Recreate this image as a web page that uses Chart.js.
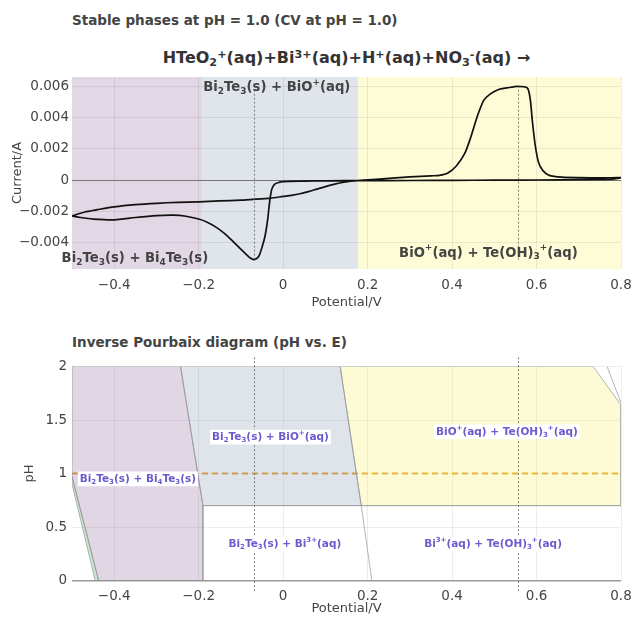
<!DOCTYPE html>
<html lang="en">
<head>
<meta charset="UTF-8">
<title>Stable phases at pH = 1.0 / Inverse Pourbaix diagram</title>
<script src="https://cdn.jsdelivr.net/npm/chart.js"></script>
<style>
  body { margin: 0; background: #fff; font-family: 'DejaVu Sans', sans-serif; color: #444; }
  .wrap { position: relative; width: 634px; height: 620px; overflow: hidden; }
  .ttl { position: absolute; left: 72px; font-weight: bold; font-size: 13.5px; line-height: 16px; white-space: nowrap; }
  #reac { left: 72px; width: 549px; text-align: center; top: 48px; font-size: 16px; line-height: 20px; color: #333; }
  #reac sub, #reac sup { font-size: 0.7em; line-height: 0; position: relative; vertical-align: baseline; }
  #reac sub { top: 0.3em; }
  #reac sup { top: -0.45em; }
  canvas { position: absolute; left: 0; }
</style>
</head>
<body>
<div class="wrap">
  <div class="ttl" style="top:12px">Stable phases at pH = 1.0 (CV at pH = 1.0)</div>
  <div class="ttl" id="reac">HTeO<sub>2</sub><sup>+</sup>(aq)+Bi<sup>3+</sup>(aq)+H<sup>+</sup>(aq)+NO<sub>3</sub><sup>-</sup>(aq) →</div>
  <canvas id="cv" width="634" height="255" style="top:65px"></canvas>
  <div class="ttl" style="top:334px">Inverse Pourbaix diagram (pH vs. E)</div>
  <canvas id="pourbaix" width="634" height="270" style="top:350px"></canvas>
</div>
<script>
// ---- CV at pH 1.0 (forward scan to 0.8 V, then back to -0.5 V)
const cvPotential = [
  -0.5, -0.47, -0.44, -0.4, -0.35, -0.3, -0.25, -0.2, -0.15, -0.1, -0.07, -0.03, 0.0, 0.02, 0.04,
  0.06, 0.08, 0.1, 0.12, 0.14, 0.16, 0.19, 0.25, 0.3, 0.35, 0.37, 0.39, 0.41, 0.43, 0.445, 0.46,
  0.475, 0.49, 0.51, 0.53, 0.555, 0.578, 0.585, 0.59, 0.597, 0.605, 0.615, 0.63, 0.66, 0.7, 0.76, 0.8,
  0.78, 0.7, 0.6, 0.5, 0.4, 0.3, 0.2, 0.1, 0.05, 0.0, -0.01, -0.02, -0.027, -0.032, -0.037,
  -0.043, -0.05, -0.058, -0.068, -0.078, -0.09, -0.105, -0.12, -0.14, -0.16, -0.18, -0.2, -0.23,
  -0.26, -0.3, -0.35, -0.4, -0.45, -0.48, -0.5
];
const cvCurrent = [
  -0.0023, -0.00205, -0.0019, -0.00172, -0.00158, -0.00149, -0.00143, -0.0014, -0.00134, -0.00129, -0.00124, -0.00116, -0.00105, -0.00098, -0.00088,
  -0.00074, -0.00058, -0.00042, -0.00028, -0.00016, -0.00007, -0.00001, 0.0001, 0.0002, 0.00027, 0.0003, 0.00045, 0.0009, 0.0017, 0.0028, 0.0041,
  0.0051, 0.0055, 0.0058, 0.0059, 0.006, 0.0059, 0.0052, 0.0038, 0.0022, 0.0011, 0.0006, 0.0003, 0.00018, 0.00015, 0.00014, 0.00015,
  0.00005, 0.00002, 0.0, -0.00001, -0.00002, -0.00003, -0.00004, -0.00005, -0.00007, -0.0001, -0.00015, -0.00026, -0.0006, -0.0014, -0.0026,
  -0.0036, -0.0043, -0.0049, -0.0051, -0.005, -0.0047, -0.0043, -0.0039, -0.0034, -0.003, -0.0027, -0.0025, -0.00232,
  -0.00225, -0.00228, -0.0024, -0.00255, -0.0025, -0.0024, -0.0023
];
const phaseEdges = [-0.5, -0.192, 0.177, 0.8];
const peakPotentials = [-0.07, 0.555];
const cvTicksX = [-0.4, -0.2, 0, 0.2, 0.4, 0.6, 0.8];
const cvTicksY = [-0.004, -0.002, 0, 0.002, 0.004, 0.006];

// ---- inverse Pourbaix regions (E, pH)
const regBi4Te3 = [[-0.5, 2], [-0.243, 2], [-0.19, 0.7], [-0.19, 0], [-0.437, 0], [-0.5, 0.97], [-0.5, 2]];
const regStrip = [[-0.5, 0.97], [-0.437, 0], [-0.445, 0], [-0.5, 0.9], [-0.5, 0.97]];
const regBiO = [[-0.243, 2], [0.135, 2], [0.185, 0.7], [-0.19, 0.7], [-0.243, 2]];
const regTeOH = [[0.135, 2], [0.734, 2], [0.8, 1.64], [0.8, 0.7], [0.185, 0.7], [0.135, 2]];
const lineBi3 = [[0.185, 0.7], [0.21, 0]];
const lineCorner = [[0.767, 2], [0.8, 1.66]];
const lineBottom = [[-0.19, 0.7], [0.8, 0.7]];
const phCV = 1.0;
const pbTicksX = [-0.4, -0.2, 0, 0.2, 0.4, 0.6, 0.8];
const pbTicksY = [0, 0.5, 1, 1.5, 2];

const purple = 'rgba(131,91,147,0.25)', slate = 'rgba(123,147,171,0.25)',
      yellow = 'rgba(247,239,91,0.25)', green = 'rgba(75,175,95,0.3)';
const FONT = "'DejaVu Sans', sans-serif";
const minus = s => s.replace('-', '\u2212');

function parseRich(s) {
  const out = []; let i = 0, buf = '';
  while (i < s.length) {
    const c = s[i];
    if ((c === '_' || c === '^') && s[i + 1] === '{') {
      if (buf) { out.push({ t: buf, k: 0 }); buf = ''; }
      const j = s.indexOf('}', i);
      out.push({ t: s.slice(i + 2, j), k: c === '_' ? 1 : -1 });
      i = j + 1;
    } else { buf += c; i++; }
  }
  if (buf) out.push({ t: buf, k: 0 });
  return out;
}

function drawRich(ctx, s, cx, cy, size, color, bg) {
  const parts = parseRich(s);
  const big = `bold ${size}px ${FONT}`, small = `bold ${Math.round(size * 0.7)}px ${FONT}`;
  let w = 0;
  parts.forEach(p => { ctx.font = p.k ? small : big; p.w = ctx.measureText(p.t).width; w += p.w; });
  let x = cx - w / 2;
  if (bg) { ctx.fillStyle = bg; ctx.fillRect(x - 2, cy - size * 0.7, w + 4, size * 1.4); }
  ctx.fillStyle = color; ctx.textBaseline = 'middle'; ctx.textAlign = 'left';
  parts.forEach(p => {
    ctx.font = p.k ? small : big;
    ctx.fillText(p.t, x, cy + (p.k > 0 ? size * 0.3 : p.k < 0 ? -size * 0.38 : 0));
    x += p.w;
  });
}

const bandPlugin = {
  id: 'bands',
  beforeDraw(chart, args, opts) {
    const { ctx, chartArea: a, scales: { x } } = chart;
    ctx.save();
    for (let i = 0; i < opts.edges.length - 1; i++) {
      const x0 = x.getPixelForValue(opts.edges[i]), x1 = x.getPixelForValue(opts.edges[i + 1]);
      ctx.fillStyle = opts.colors[i];
      ctx.fillRect(x0, a.top, x1 - x0, a.bottom - a.top);
    }
    ctx.restore();
  }
};

const markPlugin = {
  id: 'marks',
  afterDatasetsDraw(chart, args, opts) {
    const { ctx, scales: { x, y } } = chart;
    ctx.save();
    ctx.strokeStyle = 'rgba(90,90,90,0.75)'; ctx.lineWidth = 1; ctx.setLineDash([2, 2]);
    opts.vlines.forEach(v => {
      const px = Math.round(x.getPixelForValue(v)) + 0.5;
      ctx.beginPath();
      ctx.moveTo(px, y.getPixelForValue(opts.vFrom));
      ctx.lineTo(px, y.getPixelForValue(opts.vTo));
      ctx.stroke();
    });
    ctx.setLineDash([]);
    opts.labels.forEach(l => drawRich(ctx, l.text, x.getPixelForValue(l.x), y.getPixelForValue(l.y), opts.size, opts.color, opts.bg));
    ctx.restore();
  }
};

const tickFont = { family: FONT, size: 13.5 };
const axisTitle = (text, pad) => ({ display: true, text, color: '#444', font: { family: FONT, size: 13 }, padding: pad });
const fixTicks = arr => s => { s.ticks = arr.map(v => ({ value: v })); };
const fitX = h => s => { s.height = h; s.paddingLeft = 0; s.paddingRight = 0; };
const fitY = s => { s.width = 72; s.paddingTop = 0; s.paddingBottom = 0; };

new Chart(document.getElementById('cv'), {
  type: 'scatter',
  data: {
    datasets: [{
      data: cvPotential.map((v, i) => ({ x: v, y: cvCurrent[i] })),
      showLine: true, borderColor: '#111', borderWidth: 1.7, pointRadius: 0, tension: 0.25, fill: false
    }]
  },
  options: {
    responsive: false, animation: false,
    layout: { padding: { top: 12, right: 13, left: 0, bottom: 0 } },
    plugins: {
      legend: { display: false }, tooltip: { enabled: false },
      bands: { edges: phaseEdges, colors: ['rgb(226,215,228)', 'rgb(223,229,235)', 'rgb(253,252,215)'] },
      marks: {
        vlines: peakPotentials, vFrom: Math.min(...cvCurrent), vTo: Math.max(...cvCurrent),
        size: 13.2, color: '#444', bg: null,
        labels: [
          { text: 'Bi_{2}Te_{3}(s) + BiO^{+}(aq)', x: -0.015, y: 0.0059 },
          { text: 'Bi_{2}Te_{3}(s) + Bi_{4}Te_{3}(s)', x: -0.351, y: -0.00502 },
          { text: 'BiO^{+}(aq) + Te(OH)_{3}^{+}(aq)', x: 0.486, y: -0.00468 }
        ]
      }
    },
    scales: {
      x: {
        type: 'linear', min: -0.5, max: 0.8,
        afterBuildTicks: fixTicks(cvTicksX), afterFit: fitX(51),
        grid: { color: 'rgba(0,0,0,0.07)', drawTicks: false }, border: { display: false },
        ticks: { font: tickFont, color: '#444', padding: 8, callback: v => v === 0 ? '0' : minus(v.toFixed(1)) },
        title: axisTitle('Potential/V', { bottom: 10, top: 0 })
      },
      y: {
        min: -0.0057, max: 0.0066,
        afterBuildTicks: fixTicks(cvTicksY), afterFit: fitY,
        grid: { color: c => c.tick && c.tick.value === 0 ? '#777' : 'rgba(0,0,0,0.07)', drawTicks: false }, border: { display: false },
        ticks: { font: tickFont, color: '#444', padding: 3, callback: v => v === 0 ? '0' : minus(v.toFixed(3)) },
        title: axisTitle('Current/A', { top: 10, bottom: 0 })
      }
    }
  },
  plugins: [bandPlugin, markPlugin]
});

const pts = a => a.map(p => ({ x: p[0], y: p[1] }));
const edge = 'rgba(150,150,150,0.7)';
const poly = (a, c) => ({ data: pts(a), showLine: true, fill: 'shape', backgroundColor: c, borderColor: edge, borderWidth: 1, pointRadius: 0 });
const seg = (a, c, w, dash) => ({ data: pts(a), showLine: true, fill: false, borderColor: c, borderWidth: w, borderDash: dash || [], pointRadius: 0 });

new Chart(document.getElementById('pourbaix'), {
  type: 'scatter',
  data: {
    datasets: [
      poly(regBi4Te3, purple), poly(regStrip, green), poly(regBiO, slate), poly(regTeOH, yellow),
      seg(lineBi3, edge, 1), seg(lineCorner, edge, 1), seg(lineBottom, edge, 1),
      seg([[-0.5, phCV], [0.8, phCV]], '#e6a230', 2, [6, 4])
    ]
  },
  options: {
    responsive: false, animation: false,
    layout: { padding: { top: 16.5, right: 13, left: 0, bottom: 0 } },
    plugins: {
      legend: { display: false }, tooltip: { enabled: false },
      marks: {
        vlines: peakPotentials, vFrom: -0.1, vTo: 2.1,
        size: 10.5, color: '#6a5acd', bg: '#fff',
        labels: [
          { text: 'Bi_{2}Te_{3}(s) + BiO^{+}(aq)', x: -0.03, y: 1.34 },
          { text: 'BiO^{+}(aq) + Te(OH)_{3}^{+}(aq)', x: 0.53, y: 1.39 },
          { text: 'Bi_{2}Te_{3}(s) + Bi_{4}Te_{3}(s)', x: -0.344, y: 0.95 },
          { text: 'Bi_{2}Te_{3}(s) + Bi^{3+}(aq)', x: 0.004, y: 0.34 },
          { text: 'Bi^{3+}(aq) + Te(OH)_{3}^{+}(aq)', x: 0.497, y: 0.34 }
        ]
      }
    },
    scales: {
      x: {
        type: 'linear', min: -0.5, max: 0.8,
        afterBuildTicks: fixTicks(pbTicksX), afterFit: fitX(39.5),
        grid: { color: 'rgba(0,0,0,0.07)', drawTicks: false }, border: { display: false },
        ticks: { font: tickFont, color: '#444', padding: 8, callback: v => v === 0 ? '0' : minus(v.toFixed(1)) },
        title: axisTitle('Potential/V', { bottom: 4, top: 0 })
      },
      y: {
        min: 0, max: 2,
        afterBuildTicks: fixTicks(pbTicksY), afterFit: fitY,
        grid: {
          color: c => c.tick && c.tick.value === 0 ? '#999' : 'rgba(0,0,0,0.07)',
          lineWidth: c => c.tick && c.tick.value === 0 ? 1.5 : 1, drawTicks: false
        },
        border: { display: false },
        ticks: { font: tickFont, color: '#444', padding: 5, callback: v => Number.isInteger(v) ? String(v) : v.toFixed(1) },
        title: axisTitle('pH', { top: 22, bottom: 0 })
      }
    }
  },
  plugins: [markPlugin]
});
</script>
</body>
</html>
